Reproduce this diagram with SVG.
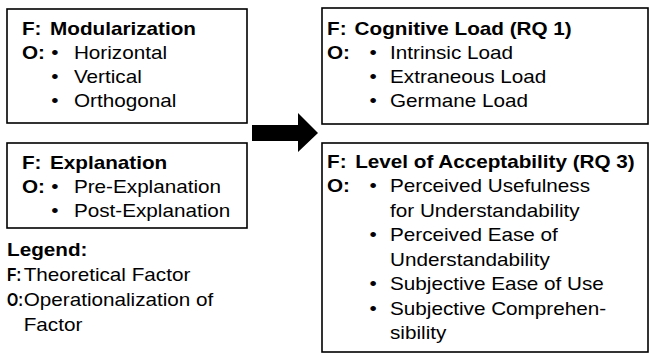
<svg xmlns="http://www.w3.org/2000/svg" width="649" height="354" viewBox="0 0 649 354">
<style>
text{font-family:"Liberation Sans",Arial,sans-serif;font-size:18px;fill:#000}
.b{font-weight:bold}
.box{fill:#fff;stroke:#000;stroke-width:1.6}
</style>
<rect width="649" height="354" fill="#fff"/>
<g id="modularization">
<rect class="box" x="7" y="9" width="240" height="114"/>
<g transform="scale(1.15 1)">
<text class="b" x="19.1" y="35">F:</text><text class="b" x="43.5" y="35">Modularization</text>
<text class="b" x="19.1" y="59">O:</text><text x="44.6" y="59">•</text><text x="64.3" y="59">Horizontal</text>
<text x="44.6" y="83">•</text><text x="64.3" y="83">Vertical</text>
<text x="44.6" y="107">•</text><text x="64.3" y="107">Orthogonal</text>
</g>
</g>
<g id="explanation">
<rect class="box" x="7" y="143" width="240" height="85"/>
<g transform="scale(1.15 1)">
<text class="b" x="19.1" y="169">F:</text><text class="b" x="43.5" y="169">Explanation</text>
<text class="b" x="19.1" y="193">O:</text><text x="44.6" y="193">•</text><text x="64.3" y="193">Pre-Explanation</text>
<text x="44.6" y="217">•</text><text x="64.3" y="217">Post-Explanation</text>
</g>
</g>
<g id="legend">
<g transform="scale(1.15 1)">
<text class="b" x="6.1" y="256">Legend:</text>
<text x="20.6" y="281">Theoretical Factor</text>
<text x="20.6" y="306">Operationalization of</text>
<text x="20.6" y="331">Factor</text>
</g>
<text class="b" transform="translate(7 281) scale(0.85 1)">F:</text>
<text class="b" transform="translate(7 306) scale(0.8 1)">O:</text>
</g>
<g id="connectors">
<polygon points="252,125 298,125 298,113 318,133 298,152 298,141 252,141" fill="#000"/>
</g>
<g id="cognitive-load">
<rect class="box" x="322" y="8" width="326" height="116"/>
<g transform="translate(327 0) scale(1.15 1)">
<text class="b" x="0" y="35">F:</text><text class="b" x="24" y="35">Cognitive Load (RQ 1)</text>
<text class="b" x="0" y="59">O:</text><text x="37" y="59">•</text><text x="54.8" y="59">Intrinsic Load</text>
<text x="37" y="83">•</text><text x="54.8" y="83">Extraneous Load</text>
<text x="37" y="107">•</text><text x="54.8" y="107">Germane Load</text>
</g>
</g>
<g id="acceptability">
<rect class="box" x="322" y="143" width="326" height="209"/>
<g transform="translate(327 0) scale(1.15 1)">
<text class="b" x="0" y="168">F:</text><text class="b" x="24.5" y="168">Level of Acceptability (RQ 3)</text>
<text class="b" x="0" y="192.5">O:</text><text x="37" y="192.5">•</text><text x="54.8" y="192.5">Perceived Usefulness</text>
<text x="54.8" y="217">for Understandability</text>
<text x="37" y="241.5">•</text><text x="54.8" y="241.5">Perceived Ease of</text>
<text x="54.8" y="266">Understandability</text>
<text x="37" y="290.5">•</text><text x="54.8" y="290.5">Subjective Ease of Use</text>
<text x="37" y="315">•</text><text x="54.8" y="315">Subjective Comprehen-</text>
<text x="54.8" y="339.5">sibility</text>
</g>
</g>
</svg>
